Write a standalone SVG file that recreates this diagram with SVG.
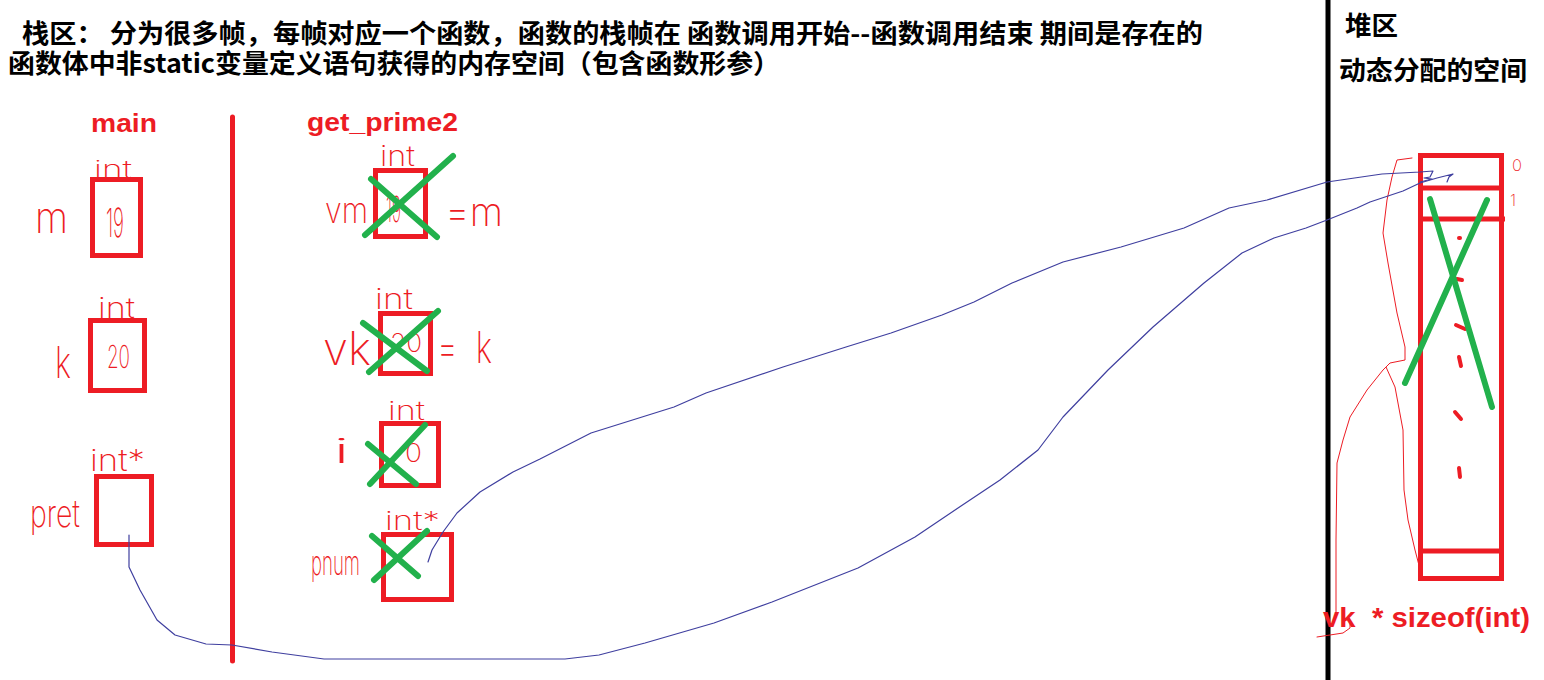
<svg xmlns="http://www.w3.org/2000/svg" width="1544" height="680" viewBox="0 0 1544 680">
<style>
.bg{fill:#fff}
.box{fill:none;stroke:#ed1c24;stroke-width:5}
.gx{stroke:#22b14c;stroke-width:6;stroke-linecap:round;fill:none}
.hand{font-family:Inter,Lato,"Liberation Sans",sans-serif;font-weight:200;fill:#ed1c24}
.title{font-family:"Noto Sans CJK SC","Noto Sans",sans-serif;font-weight:bold;font-size:26px;fill:#000}
.rl{font-family:"Liberation Sans",Arial,sans-serif;font-weight:bold;fill:#ed1c24}
.link{fill:none;stroke:#3f3f9f;stroke-width:1.2;stroke-linejoin:round;stroke-linecap:round}
.thin{fill:none;stroke:#ed1c24;stroke-width:1;stroke-linejoin:round;stroke-linecap:round}
.dash{stroke:#ed1c24;stroke-width:4;stroke-linecap:round}
</style>
<rect class="bg" x="0" y="0" width="1544" height="680"/>

<g id="titles">
<text class="title" x="22" y="43" textLength="1181" lengthAdjust="spacingAndGlyphs">栈区： 分为很多帧，每帧对应一个函数，函数的栈帧在 函数调用开始--函数调用结束 期间是存在的</text>
<text class="title" x="8" y="73" textLength="772" lengthAdjust="spacingAndGlyphs">函数体中非static变量定义语句获得的内存空间（包含函数形参）</text>
<text class="title" x="1345" y="35" textLength="53" lengthAdjust="spacingAndGlyphs">堆区</text>
<text class="title" x="1339" y="80" textLength="188" lengthAdjust="spacingAndGlyphs">动态分配的空间</text>
</g>

<g id="dividers">
<line x1="232.5" y1="117" x2="232.5" y2="661" stroke="#ed1c24" stroke-width="5" stroke-linecap="round"/>
<line x1="1328" y1="0" x2="1328" y2="680" stroke="#000" stroke-width="5"/>
</g>

<g id="frame-labels">
<text class="rl" x="91" y="132" font-size="25" textLength="66" lengthAdjust="spacingAndGlyphs">main</text>
<text class="rl" x="307" y="131" font-size="25" textLength="151" lengthAdjust="spacingAndGlyphs">get_prime2</text>
</g>

<g id="main-m">
<rect class="box" x="92.5" y="179.5" width="48" height="76"/>
<text class="hand" x="94" y="178" font-size="24" textLength="38" lengthAdjust="spacingAndGlyphs">int</text>
<text class="hand" x="106" y="237" font-size="40" textLength="18" lengthAdjust="spacingAndGlyphs">19</text>
<text class="hand" x="35" y="233" font-size="44" textLength="33" lengthAdjust="spacingAndGlyphs">m</text>
</g>

<g id="main-k">
<rect class="box" x="90.5" y="320.5" width="54" height="70"/>
<text class="hand" x="98" y="318" font-size="28" textLength="37" lengthAdjust="spacingAndGlyphs">int</text>
<text class="hand" x="107" y="368" font-size="32" textLength="23" lengthAdjust="spacingAndGlyphs">20</text>
<text class="hand" x="55" y="378" font-size="44" textLength="16" lengthAdjust="spacingAndGlyphs">k</text>
</g>

<g id="main-pret">
<rect class="box" x="96.5" y="476.5" width="55" height="68"/>
<text class="hand" x="90" y="471" font-size="30" textLength="55" lengthAdjust="spacingAndGlyphs">int*</text>
<text class="hand" x="30" y="527" font-size="38" textLength="50" lengthAdjust="spacingAndGlyphs">pret</text>
</g>

<g id="gp-vm">
<rect class="box" x="375.5" y="170.5" width="50" height="66"/>
<text class="hand" x="380" y="166" font-size="28" textLength="35" lengthAdjust="spacingAndGlyphs">int</text>
<text class="hand" x="386" y="222" font-size="36" textLength="15" lengthAdjust="spacingAndGlyphs">19</text>
<text class="hand" x="325" y="223" font-size="36" textLength="43" lengthAdjust="spacingAndGlyphs">vm</text>
<text class="hand" x="445" y="226" font-size="40" textLength="58" lengthAdjust="spacingAndGlyphs">=m</text>
<line class="gx" x1="371" y1="179" x2="437" y2="237"/>
<line class="gx" x1="365" y1="235" x2="453" y2="156"/>
</g>

<g id="gp-vk">
<rect class="box" x="380.5" y="313.5" width="50" height="60"/>
<text class="hand" x="375" y="309" font-size="28" textLength="38" lengthAdjust="spacingAndGlyphs">int</text>
<text class="hand" x="390" y="352" font-size="26" textLength="32" lengthAdjust="spacingAndGlyphs">20</text>
<text class="hand" x="323" y="365" font-size="46" textLength="48" lengthAdjust="spacingAndGlyphs">vk</text>
<text class="hand" x="437" y="363" font-size="44" textLength="55" lengthAdjust="spacingAndGlyphs" xml:space="preserve">=  k</text>
<line class="gx" x1="363" y1="323" x2="427" y2="371"/>
<line class="gx" x1="369" y1="372" x2="438" y2="311"/>
</g>

<g id="gp-i">
<rect class="box" x="381.5" y="423.5" width="57" height="62"/>
<text class="hand" x="388" y="420" font-size="26" textLength="37" lengthAdjust="spacingAndGlyphs">int</text>
<text class="hand" x="405" y="462" font-size="26" textLength="17" lengthAdjust="spacingAndGlyphs">0</text>
<text class="hand" x="332" y="463" font-size="34" textLength="19" lengthAdjust="spacingAndGlyphs">i</text>
<line class="gx" x1="368" y1="444" x2="416" y2="484"/>
<line class="gx" x1="370" y1="484" x2="425" y2="425"/>
</g>

<g id="gp-pnum">
<rect class="box" x="383.5" y="534.5" width="68" height="65"/>
<text class="hand" x="385" y="530" font-size="26" textLength="55" lengthAdjust="spacingAndGlyphs">int*</text>
<text class="hand" x="311" y="575" font-size="34" textLength="49" lengthAdjust="spacingAndGlyphs">pnum</text>
<line class="gx" x1="372" y1="536" x2="418" y2="576"/>
<line class="gx" x1="374" y1="580" x2="427" y2="531"/>
</g>

<g id="heap">
<rect class="box" x="1420.5" y="155.5" width="81" height="423"/>
<line class="box" x1="1420" y1="188" x2="1501" y2="188"/>
<line class="box" x1="1420" y1="219" x2="1505" y2="219"/>
<line class="box" x1="1420" y1="551" x2="1501" y2="551"/>
<text class="hand" x="1512" y="171" font-size="16" textLength="10" lengthAdjust="spacingAndGlyphs">0</text>
<text class="hand" x="1510" y="206" font-size="16" textLength="6" lengthAdjust="spacingAndGlyphs">1</text>
<line class="dash" x1="1459" y1="238" x2="1460" y2="238"/>
<line class="dash" x1="1457" y1="279" x2="1462" y2="280"/>
<line class="dash" x1="1456" y1="325" x2="1465" y2="329"/>
<line class="dash" x1="1459" y1="357" x2="1461" y2="366"/>
<line class="dash" x1="1455" y1="412" x2="1461" y2="419"/>
<line class="dash" x1="1459" y1="468" x2="1460" y2="477"/>
<line class="gx" x1="1430" y1="199" x2="1492" y2="407" stroke-width="5"/>
<line class="gx" x1="1487" y1="200" x2="1405" y2="383" stroke-width="5"/>
<path class="thin" d="M1412,158 L1397,160 L1392,177 L1387,200 L1383,233 L1388,263 L1397,313 L1405,347 L1405,360 L1390,363 L1386,367 L1395,387 L1403,430 L1404,490 L1408,520 L1415,550 L1421,573"/>
<path class="thin" d="M1386,367 L1383,370 L1367,390 L1350,417 L1343,440 L1337,463 L1336,540 L1336,612"/>
<path class="thin" d="M1350,623 L1350,628 L1343,633 L1317,637"/>
<text class="rl" x="1323" y="627" font-size="28" textLength="207" lengthAdjust="spacingAndGlyphs" xml:space="preserve">vk  * sizeof(int)</text>
</g>

<g id="connectors">
<path class="link" d="M428,562 L432,550 L443,532 L457,513 L480,492 L513,472 L540,459 L591,433 L674,407 L706,393 L783,367 L846,347 L891,333 L942,315 L974,302 L1012,283 L1063,262 L1121,247 L1184,228 L1229,208 L1267,200 L1327,182 L1382,174 L1420,172 L1433,171 L1430,177 L1424,178 L1432,179 L1420,182"/>
<path class="link" d="M129,535 L129,567 L140,590 L157,620 L175,635 L206,644 L232,645 L272,652 L324,659 L444,659 L565,659 L599,655 L645,643 L714,623 L772,602 L858,568 L915,537 L961,506 L1000,480 L1038,450 L1063,417 L1108,370 L1153,327 L1204,283 L1242,253 L1274,238 L1306,228 L1327,220 L1357,208 L1370,202 L1403,191 L1420,183 L1437,178 L1453,174 L1449,177 L1447,182"/>
</g>
</svg>
